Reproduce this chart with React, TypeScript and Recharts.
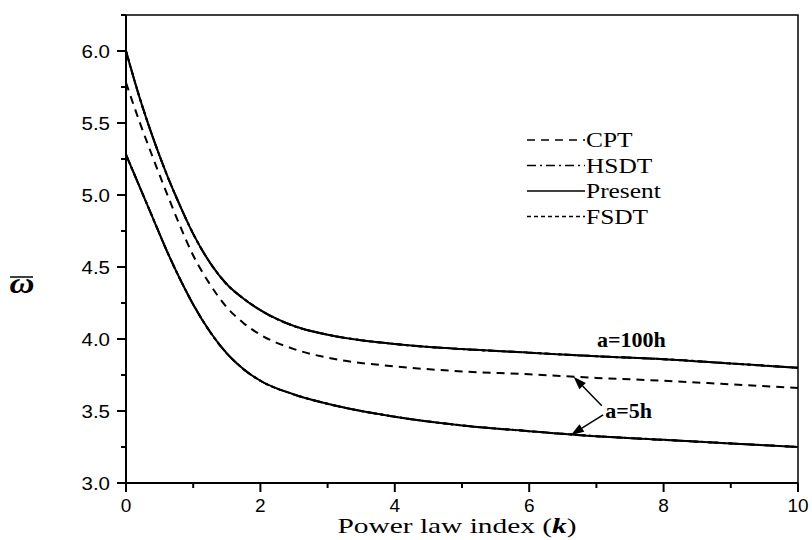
import {
  LineChart,
  Line,
  XAxis,
  YAxis,
  Legend,
  ReferenceArea,
  ReferenceLine,
  ReferenceDot,
} from 'recharts'

// power law index k
const kValues = [0, 0.2, 0.4, 0.6, 0.8, 1, 1.25, 1.5, 1.75, 2, 2.5, 3, 4, 5, 6, 7, 8, 9, 10]

// CPT does not depend on a/h
const cpt = [5.78, 5.51, 5.26, 5.02, 4.79, 4.58, 4.38, 4.22, 4.11, 4.03, 3.93, 3.87, 3.81, 3.775, 3.755, 3.73, 3.71, 3.685, 3.66]

// a = 100h
const present100 = [6.0, 5.68, 5.4, 5.15, 4.93, 4.73, 4.53, 4.38, 4.28, 4.2, 4.09, 4.03, 3.965, 3.93, 3.905, 3.88, 3.86, 3.83, 3.8]
const hsdt100 = [6.0, 5.68, 5.4, 5.15, 4.93, 4.73, 4.53, 4.38, 4.28, 4.2, 4.09, 4.03, 3.965, 3.93, 3.905, 3.88, 3.86, 3.83, 3.8]
const fsdt100 = [6.0, 5.68, 5.4, 5.15, 4.93, 4.73, 4.53, 4.38, 4.28, 4.2, 4.09, 4.03, 3.965, 3.93, 3.905, 3.88, 3.86, 3.83, 3.8]

// a = 5h
const present5 = [5.28, 5.06, 4.84, 4.62, 4.42, 4.24, 4.05, 3.9, 3.79, 3.71, 3.615, 3.55, 3.46, 3.4, 3.36, 3.325, 3.3, 3.275, 3.25]
const hsdt5 = [5.28, 5.06, 4.84, 4.62, 4.42, 4.24, 4.05, 3.9, 3.79, 3.71, 3.615, 3.55, 3.46, 3.4, 3.36, 3.325, 3.3, 3.275, 3.25]
const fsdt5 = [5.28, 5.06, 4.84, 4.62, 4.42, 4.24, 4.05, 3.9, 3.79, 3.71, 3.615, 3.55, 3.46, 3.4, 3.36, 3.325, 3.3, 3.275, 3.25]

const xTicks = [0, 1, 2, 3, 4, 5, 6, 7, 8, 9, 10]
const yTicks = [3, 3.25, 3.5, 3.75, 4, 4.25, 4.5, 4.75, 5, 5.25, 5.5, 5.75, 6, 6.25]

const legendItems = [
  { name: 'CPT', dash: '8 6' },
  { name: 'HSDT', dash: '9 4 2 4' },
  { name: 'Present', dash: undefined },
  { name: 'FSDT', dash: '4 3' },
]

const data = kValues.map((k, i) => ({
  k,
  cpt: cpt[i],
  present100: present100[i],
  hsdt100: hsdt100[i],
  fsdt100: fsdt100[i],
  present5: present5[i],
  hsdt5: hsdt5[i],
  fsdt5: fsdt5[i],
}))

const SANS = '"Liberation Sans", Arial, sans-serif'
const SERIF = '"Liberation Serif", "Times New Roman", serif'

function XTick(props: any) {
  const { x, y, payload } = props
  const major = payload.value % 2 === 0
  return (
    <g>
      <line x1={x} x2={x} y1={y} y2={y + (major ? 9 : 5)} stroke="#000" strokeWidth={2} />
      {major && (
        <text x={x} y={y + 29} textAnchor="middle" fontFamily={SANS} fontSize={19} fill="#000">
          {payload.value}
        </text>
      )}
    </g>
  )
}

function YTick(props: any) {
  const { x, y, payload } = props
  const v = payload.value
  const major = Math.abs(v * 2 - Math.round(v * 2)) < 1e-6
  return (
    <g>
      <line x1={x} x2={x - (major ? 9 : 5)} y1={y} y2={y} stroke="#000" strokeWidth={2} />
      {major && (
        <text
          transform={`translate(${x - 16},${y}) scale(1.08,1)`}
          dy="0.36em"
          textAnchor="end"
          fontFamily={SANS}
          fontSize={19}
          fill="#000"
        >
          {v.toFixed(1)}
        </text>
      )}
    </g>
  )
}

function Arrow(props: any) {
  const { x1, y1, x2, y2 } = props
  const ang = Math.atan2(y2 - y1, x2 - x1)
  const len = 13
  const w = 4.5
  const bx = x2 - len * Math.cos(ang)
  const by = y2 - len * Math.sin(ang)
  const px = -Math.sin(ang) * w
  const py = Math.cos(ang) * w
  return (
    <g>
      <line x1={x1} y1={y1} x2={bx} y2={by} stroke="#000" strokeWidth={1.5} />
      <polygon points={`${x2},${y2} ${bx + px},${by + py} ${bx - px},${by - py}`} fill="#000" />
    </g>
  )
}

function noteShape(text: string) {
  return (props: any) => (
    <text x={props.cx} y={props.cy} fontFamily={SERIF} fontWeight="bold" fontSize={22} fill="#000">
      {text}
    </text>
  )
}

function LegendBox() {
  return (
    <svg width={160} height={104}>
      {legendItems.map((it, i) => {
        const cy = 12 + i * 25.5
        return (
          <g key={it.name}>
            <line x1={2} x2={60} y1={cy} y2={cy} stroke="#000" strokeWidth={1.5} strokeDasharray={it.dash} />
            <text transform={`translate(61,${cy + 7}) scale(1.27,1)`} fontFamily={SERIF} fontSize={20} fill="#000">
              {it.name}
            </text>
          </g>
        )
      })}
    </svg>
  )
}

function YLabel(props: any) {
  const { viewBox } = props
  const cx = viewBox.x + 22
  const cy = viewBox.y + 278
  return (
    <g>
      <line x1={cx - 12} x2={cx + 11} y1={cy - 16} y2={cy - 16} stroke="#000" strokeWidth={1.5} />
      <text
        transform={`translate(${cx},${cy}) scale(1.15,1)`}
        textAnchor="middle"
        fontFamily={SERIF}
        fontStyle="italic"
        fontWeight="bold"
        fontSize={30}
        fill="#000"
      >
        ω
      </text>
    </g>
  )
}

function XLabel(props: any) {
  const { viewBox } = props
  return (
    <text
      transform={`translate(${viewBox.x + viewBox.width / 2 - 5},${viewBox.y + 50}) scale(1.4,1)`}
      textAnchor="middle"
      fontFamily={SERIF}
      fontSize={21}
      fill="#000"
    >
      Power law index (<tspan fontWeight="bold" fontStyle="italic">k</tspan>)
    </text>
  )
}

export default function App() {
  return (
    <div style={{ position: 'absolute', left: 0, top: 0, width: 812, height: 540, background: '#fff' }}>
      <LineChart width={812} height={540} data={data} margin={{ top: 15, right: 14, bottom: 0, left: 0 }}>
        <XAxis
          dataKey="k"
          type="number"
          domain={[0, 10]}
          ticks={xTicks}
          interval={0}
          height={57}
          tickSize={0}
          tickMargin={0}
          tickLine={false}
          tick={<XTick />}
          axisLine={{ stroke: '#000', strokeWidth: 2 }}
          label={<XLabel />}
        />
        <YAxis
          type="number"
          domain={[3, 6.25]}
          ticks={yTicks}
          interval={0}
          width={126}
          tickSize={0}
          tickMargin={0}
          tickLine={false}
          tick={<YTick />}
          axisLine={{ stroke: '#000', strokeWidth: 2 }}
          label={<YLabel />}
        />
        <ReferenceArea x1={0} x2={10} y1={3} y2={6.25} fill="none" stroke="#000" strokeWidth={1.5} />
        <Legend
          layout="vertical"
          align="center"
          verticalAlign="middle"
          content={<LegendBox />}
          wrapperStyle={{ top: 128, left: 525, width: 'auto' }}
        />
        <Line dataKey="hsdt100" type="monotone" stroke="#000" strokeWidth={2} strokeDasharray="9 4 2 4" dot={false} isAnimationActive={false} legendType="none" />
        <Line dataKey="fsdt100" type="monotone" stroke="#000" strokeWidth={2} strokeDasharray="4 3" dot={false} isAnimationActive={false} legendType="none" />
        <Line dataKey="hsdt5" type="monotone" stroke="#000" strokeWidth={2} strokeDasharray="9 4 2 4" dot={false} isAnimationActive={false} legendType="none" />
        <Line dataKey="fsdt5" type="monotone" stroke="#000" strokeWidth={2} strokeDasharray="4 3" dot={false} isAnimationActive={false} legendType="none" />
        <Line dataKey="cpt" type="monotone" stroke="#000" strokeWidth={2} strokeDasharray="8 6" dot={false} isAnimationActive={false} />
        <Line dataKey="present100" type="monotone" stroke="#000" strokeWidth={2} dot={false} isAnimationActive={false} />
        <Line dataKey="present5" type="monotone" stroke="#000" strokeWidth={2} dot={false} isAnimationActive={false} />
        <ReferenceDot x={7.01} y={3.946} r={0} shape={noteShape('a=100h')} />
        <ReferenceDot x={7.13} y={3.45} r={0} shape={noteShape('a=5h')} />
        <ReferenceLine segment={[{ x: 7.08, y: 3.536 }, { x: 6.66, y: 3.738 }]} shape={Arrow} />
        <ReferenceLine segment={[{ x: 7.1, y: 3.473 }, { x: 6.62, y: 3.334 }]} shape={Arrow} />
      </LineChart>
    </div>
  )
}
